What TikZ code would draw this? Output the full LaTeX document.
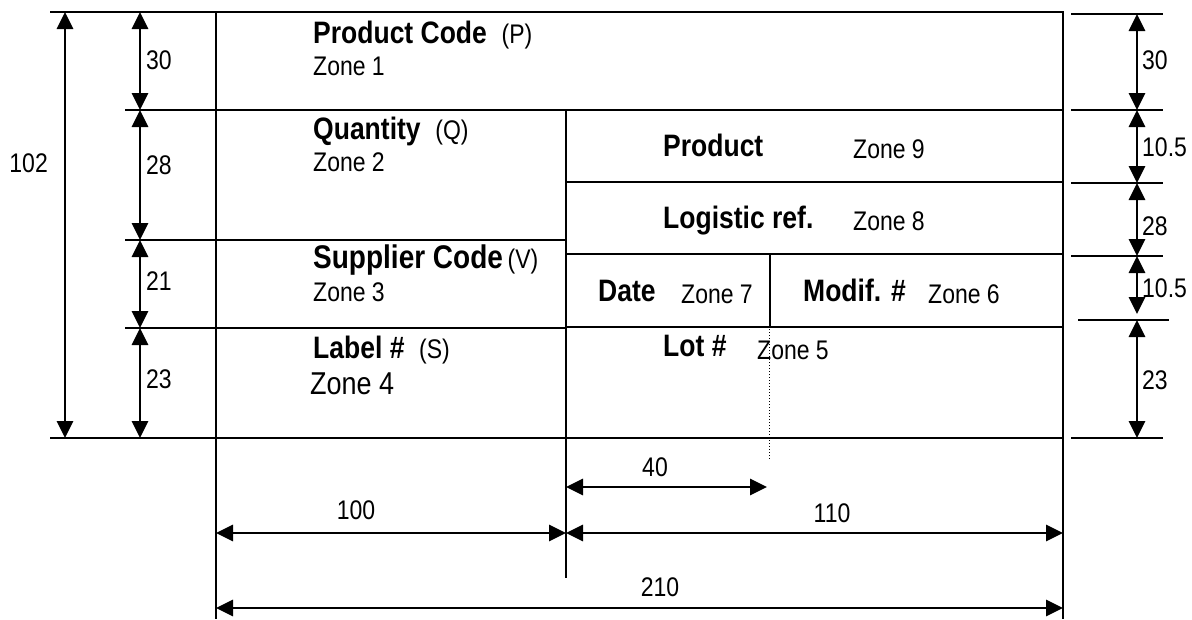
\documentclass[tikz,border=0pt]{standalone}
\usepackage{graphicx}
\usepackage{fontspec}
\setmainfont{Liberation Sans}
\usetikzlibrary{arrows.meta}
\newcommand{\tall}[1]{\scalebox{1}[1.17]{#1}}

\begin{document}
\begin{tikzpicture}[x=1pt,y=-1pt,
  box/.style={line width=1.8pt},
  ext/.style={line width=1.4pt},
  dimline/.style={line width=2.8pt,{Triangle[length=17pt,width=16pt]}-{Triangle[length=17pt,width=16pt]}},
  title/.style={anchor=base west,inner sep=0pt,font=\fontsize{26.5}{31}\selectfont\bfseries},
  zone/.style={anchor=base west,inner sep=0pt,font=\fontsize{23}{27}\selectfont},
  num/.style={inner sep=0pt,font=\fontsize{23}{27}\selectfont}]
\useasboundingbox (0,0) rectangle (1192,619);
% label frame
\coordinate (TL) at (216,12); \coordinate (BR) at (1063,438);
\coordinate (ML) at (566,110); \coordinate (MB) at (566,438);
\draw[box] (TL) rectangle (BR);
\draw[box] (216,110)--(1063,110);
\draw[box] (216,240)--(566,240);
\draw[box] (216,328)--(566,328);
\draw[box] (ML)--(MB);
\draw[box] (566,182)--(1063,182);
\draw[box] (566,254)--(1063,254);
\draw[box] (566,327)--(1063,327);
\draw[box] (770,254)--(770,327);
% zone texts
\node[title] at (313,43) {\tall{Product Code\ \ \mdseries\fontsize{23}{27}\selectfont(P)}};
\node[zone] at (313,75) {\tall{Zone 1}};
\node[title] at (313,139) {\tall{Quantity\ \ \mdseries\fontsize{23}{27}\selectfont(Q)}};
\node[zone] at (313,171) {\tall{Zone 2}};
\node[title,font=\fontsize{28}{33}\selectfont\bfseries] at (313,268) {\tall{Supplier Code\,\mdseries\fontsize{23}{27}\selectfont(V)}};
\node[zone] at (313,301) {\tall{Zone 3}};
\node[title] at (313,358) {\tall{Label \#\ \ \mdseries\fontsize{23}{27}\selectfont(S)}};
\node[zone,font=\fontsize{27}{32}\selectfont] at (310,394) {\tall{Zone 4}};
\node[title] at (663,156) {\tall{Product}};
\node[zone] at (853,158) {\tall{Zone 9}};
\node[title] at (663,228) {\tall{Logistic ref.}};
\node[zone] at (853,230) {\tall{Zone 8}};
\node[title] at (598,301) {\tall{Date}};
\node[zone] at (681,303) {\tall{Zone 7}};
\node[title] at (803,301) {\tall{Modif. \#}};
\node[zone] at (928,303) {\tall{Zone 6}};
\node[title] at (663,356) {\tall{Lot \#}};
\node[zone] at (757,359) {\tall{Zone 5}};
% left dimensions
\coordinate (L0) at (65,12); \coordinate (L1) at (65,438);
\draw[ext] (50,12)--(TL);
\draw[ext] (50,438)--(216,438);
\foreach \y in {110,240,328}{\draw[ext] (125,\y)--(216,\y);}
\draw[dimline] (L0)--(L1);
\node[num,anchor=east] at (48,163) {\tall{102}};
\foreach \a/\b/\t/\ty in {12/110/30/60,110/240/28/165,240/328/21/281,328/438/23/379}{
  \draw[dimline] (140,\a)--(140,\b);
  \node[num,anchor=west] at (146,\ty) {\tall{\t}};}
% right dimensions
\foreach \y in {14,110,183,256,438}{\draw[ext] (1071,\y)--(1163,\y);}
\draw[ext] (1078,320)--(1169,320);
\foreach \a/\b/\t/\ty in {14/110/30/60,110/183/10.5/147,183/256/28/226,256/314/10.5/288,320/438/23/380}{
  \draw[dimline] (1137,\a)--(1137,\b);
  \node[num,anchor=west] at (1142,\ty) {\tall{\t}};}
% bottom dimensions
\coordinate (D0) at (216,608); \coordinate (D1) at (1063,608);
\draw[ext] (216,438)--(216,619);
\draw[ext] (MB)--(566,578);
\draw[ext] (BR)--(1063,619);
\draw[line width=1pt,dotted] (769,320)--(769,460);
\draw[dimline] (566,487)--(767,487);
\node[num] at (655,467) {\tall{40}};
\draw[dimline] (216,533)--(566,533);
\node[num] at (356,510) {\tall{100}};
\draw[dimline] (566,533)--(1063,533);
\node[num] at (832,513) {\tall{110}};
\draw[dimline] (D0)--(D1);
\node[num] at (660,587) {\tall{210}};
\end{tikzpicture}
\end{document}
